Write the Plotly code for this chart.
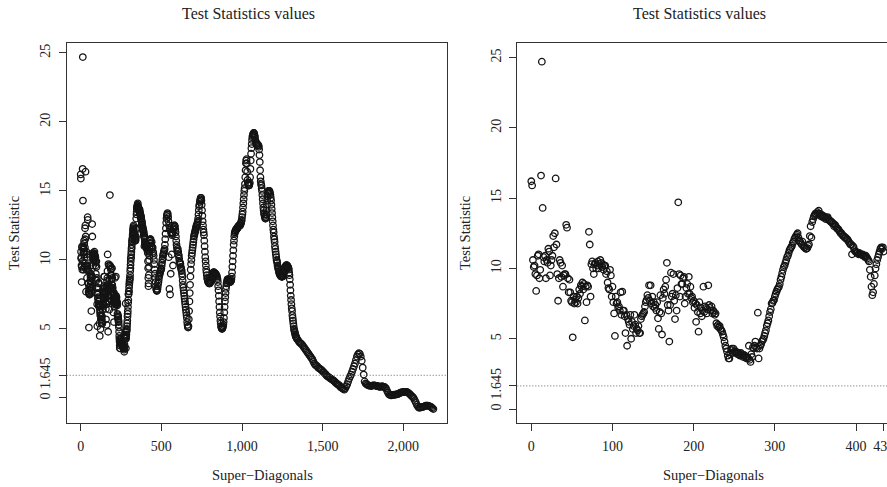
import plotly.graph_objects as go

# ---------------- data ----------------
# Test statistic for super-diagonals 0..434 (individually readable in the right panel)
Y_HEAD = [
    16.2, 15.9, 10.6, 10.1, 10.2, 9.6, 8.4, 9.5, 10.9, 11.0,
    9.3, 9.9, 16.6, 24.7, 14.3, 10.8, 10.5, 10.9, 9.3, 10.6,
    10.4, 11.4, 11.2, 9.5, 10.2, 10.6, 10.9, 12.3, 11.5, 12.5,
    16.4, 11.7, 9.6, 7.7, 9.3, 10.6, 10.4, 9.4, 10.2, 8.7,
    9.5, 9.6, 9.6, 13.1, 12.9, 9.3, 8.3, 9.2, 8.3, 7.7,
    7.6, 5.1, 8.0, 7.5, 7.8, 7.6, 8.0, 7.5, 7.9, 8.5,
    8.2, 8.8, 8.7, 9.0, 8.5, 8.9, 6.3, 8.7, 7.6, 8.8,
    8.7, 12.6, 11.7, 8.0, 10.3, 10.5, 10.0, 9.6, 10.3, 10.4,
    10.0, 10.2, 10.5, 10.0, 10.3, 10.6, 10.4, 10.1, 10.3, 9.9,
    10.2, 10.2, 9.6, 9.8, 9.0, 8.6, 8.5, 9.9, 9.5, 8.0,
    8.7, 7.6, 6.8, 5.2, 8.0, 7.5, 7.6, 7.2, 7.3, 7.0,
    8.3, 6.7, 8.35, 7.0, 7.0, 6.6, 5.4, 6.7, 4.5, 6.4,
    6.2, 6.0, 6.7, 5.0, 6.2, 5.7, 5.9, 6.7, 6.0, 5.4,
    5.7, 5.6, 5.9, 5.4, 5.4, 6.4, 6.6, 6.7, 6.8, 6.9,
    7.3, 7.6, 7.75, 8.1, 7.9, 8.8, 7.7, 8.8, 7.5, 8.0,
    7.3, 7.6, 7.2, 7.4, 7.0, 7.6, 6.45, 5.7, 6.9, 8.1,
    6.8, 5.3, 7.9, 8.5, 8.2, 8.7, 9.2, 10.4, 7.4, 7.0,
    4.8, 7.4, 9.7, 8.0, 8.2, 9.6, 7.7, 6.4, 8.1, 7.0,
    8.6, 14.7, 9.6, 8.0, 9.5, 8.9, 8.9, 9.3, 9.4, 7.5,
    8.0, 8.6, 8.9, 8.2, 9.4, 8.2, 8.7, 7.9, 8.0, 7.6,
    7.7, 7.2, 7.5, 6.2, 7.4, 6.9, 5.5, 7.6, 6.8, 7.2,
    6.6, 7.0, 8.7, 6.9, 7.3, 7.2, 6.8, 7.1, 8.8, 7.4,
    7.2, 7.0, 7.3, 6.8, 7.0, 6.9, 6.7, 6.8, 6.1, 5.9,
    6.0, 5.8, 5.9, 5.7, 5.6, 5.5, 5.3, 5.1, 4.8, 4.5,
    4.3, 4.1, 3.8, 3.6, 3.6, 3.9, 4.2, 4.3, 4.0, 4.3,
    4.1, 4.0, 4.1, 4.0, 3.9, 4.0, 3.9, 3.8, 4.0, 3.9,
    3.8, 3.7, 3.85, 3.8, 3.7, 3.6, 3.7, 3.6, 4.5, 3.5,
    3.35, 3.9, 3.7, 4.4, 4.3, 4.5, 4.8, 4.4, 4.3, 6.85,
    3.6, 4.3, 4.5, 4.6, 4.8, 4.9, 5.0, 5.2, 5.4, 5.6,
    5.9, 6.1, 6.3, 6.6, 6.9, 7.1, 7.5, 7.55, 7.7, 7.75,
    8.0, 8.2, 8.35, 8.5, 8.6, 8.7, 8.9, 9.2, 9.4, 9.65,
    9.9, 10.1, 10.2, 10.4, 10.6, 10.8, 10.9, 11.1, 11.3, 11.4,
    11.5, 11.6, 11.8, 11.9, 12.1, 12.2, 12.3, 12.4, 12.5, 12.2,
    12.0, 11.9, 11.8, 11.7, 11.9, 11.6, 11.5, 11.5, 11.4, 11.4,
    11.45, 11.6, 11.7, 12.3, 13.0, 12.2, 13.3, 13.5, 13.7, 13.8,
    13.9, 13.8, 14.0, 13.9, 14.1, 13.9, 13.8, 13.7, 13.8, 13.7,
    13.6, 13.7, 13.6, 13.5, 13.6, 13.65, 13.5, 13.4, 13.4, 13.3,
    13.3, 13.2, 13.2, 13.0, 13.1, 13.0, 12.9, 12.8, 12.8, 12.7,
    12.6, 12.5, 12.5, 12.4, 12.3, 12.3, 12.2, 12.2, 12.1, 12.1,
    12.0, 11.9, 11.8, 11.7, 11.7, 11.0, 11.6, 11.5, 11.3, 11.2,
    11.2, 11.1, 11.1, 11.0, 11.1, 11.0, 11.0, 10.95, 11.0, 10.9,
    10.9, 10.8, 10.9, 10.8, 10.7, 10.6, 10.5, 9.9, 9.4, 8.7,
    8.1, 8.3, 8.9, 9.5, 10.0, 10.3, 10.6, 10.8, 11.0, 11.2,
    11.4, 11.5, 11.4, 11.5, 11.2,
]
HEAD_START = 0

# super-diagonals 436..1340, every second one
Y_MID = [
    11.2, 11.0, 11.3, 10.9, 10.8, 10.9, 10.6, 10.5, 10.3, 10.0,
    9.7, 9.3, 9.0, 8.7, 8.4, 8.1, 7.9, 7.8, 7.75, 7.8,
    7.9, 8.1, 8.3, 8.4, 8.6, 8.8, 8.9, 9.0, 9.1, 9.2,
    9.3, 9.3, 9.4, 9.6, 9.8, 10.0, 10.1, 10.3, 10.4, 10.5,
    10.6, 10.7, 10.8, 11.1, 11.5, 11.9, 12.3, 12.7, 13.0, 13.2,
    13.3, 13.4, 13.3, 13.1, 12.8, 10.2, 12.5, 7.9, 12.3, 7.5,
    12.2, 9.0, 12.0, 11.9, 10.4, 11.8, 11.9, 12.0, 9.6, 12.2,
    12.3, 12.4, 12.5, 12.5, 12.4, 12.2, 12.0, 11.7, 11.4, 11.1,
    10.9, 10.7, 10.6, 10.8, 10.6, 10.4, 10.3, 10.1, 9.9, 9.8,
    9.8, 9.7, 9.5, 9.4, 9.3, 9.2, 9.0, 8.8, 8.5, 8.2,
    8.0, 7.8, 7.6, 7.4, 7.2, 7.0, 6.8, 6.6, 6.4, 6.2,
    6.0, 5.8, 5.5, 5.3, 5.15, 5.1, 5.2, 5.7, 6.3, 7.0,
    7.6, 8.2, 8.8, 9.3, 9.7, 10.0, 10.3, 10.5, 10.7, 10.9,
    11.1, 11.3, 11.5, 11.7, 11.8, 11.9, 12.0, 12.1, 12.2, 12.3,
    12.4, 12.5, 12.5, 12.6, 12.7, 12.8, 13.0, 13.3, 13.6, 13.9,
    14.0, 14.2, 14.3, 14.4, 14.5, 14.5, 14.3, 14.0, 13.6, 13.2,
    12.8, 12.5, 12.2, 12.0, 11.8, 11.4, 11.0, 10.6, 10.2, 9.9,
    9.6, 9.3, 9.1, 8.9, 8.7, 8.6, 8.5, 8.4, 8.4, 8.35,
    8.3, 8.3, 8.3, 8.35, 8.4, 8.5, 8.6, 8.7, 8.8, 8.9,
    8.95, 9.0, 9.05, 9.1, 9.1, 9.1, 9.1, 9.05, 9.0, 9.0,
    9.0, 8.95, 8.9, 8.9, 8.8, 8.7, 8.6, 8.4, 8.1, 7.8,
    7.4, 7.0, 6.6, 6.2, 5.9, 5.6, 5.4, 5.2, 5.1, 5.05,
    5.0, 5.05, 5.1, 5.2, 5.3, 5.5, 5.8, 6.2, 6.6, 7.0,
    7.3, 7.6, 7.9, 8.1, 8.3, 8.4, 8.5, 8.6, 8.6, 8.6,
    8.6, 8.55, 8.5, 8.45, 8.4, 8.4, 8.4, 8.45, 8.5, 8.6,
    8.8, 9.1, 9.5, 9.9, 10.3, 10.7, 11.1, 11.4, 11.7, 11.9,
    12.0, 12.1, 12.1, 12.2, 12.2, 12.2, 12.3, 12.3, 12.3, 12.4,
    12.4, 12.4, 12.5, 12.5, 12.5, 12.5, 12.5, 12.6, 12.6, 12.7,
    12.8, 12.9, 13.1, 13.3, 13.5, 13.8, 14.1, 14.4, 14.7, 15.0,
    15.2, 15.5, 16.0, 16.5, 17.0, 17.2, 17.3, 17.0, 16.4, 15.8,
    15.6, 15.5, 15.4, 15.4, 15.4, 15.5, 15.6, 16.0, 16.6, 17.2,
    17.7, 18.1, 18.4, 18.7, 18.9, 19.0, 19.1, 19.1, 19.2, 19.2,
    19.1, 19.0, 18.9, 18.7, 18.6, 18.5, 18.5, 18.4, 18.4, 18.3,
    18.4, 18.3, 18.3, 18.3, 18.2, 18.0, 17.6, 17.1, 16.5, 16.0,
    15.7, 15.5, 15.4, 15.2, 15.0, 14.7, 14.4, 14.1, 13.8, 13.6,
    13.4, 13.3, 13.2, 13.1, 13.0, 13.0, 13.1, 13.3, 13.6, 14.0,
    14.3, 14.6, 14.8, 14.9, 15.0, 15.0, 15.0, 15.0, 14.9, 14.8,
    14.7, 14.5, 14.3, 14.0, 13.7, 13.4, 13.1, 12.8, 12.5, 12.2,
    12.0, 11.7, 11.5, 11.3, 11.0, 10.8, 10.6, 10.4, 10.2, 10.0,
    9.9, 9.8, 9.6, 9.5, 9.4, 9.3, 9.2, 9.1, 9.0, 9.0,
    8.9, 8.9, 8.85, 8.8, 8.8, 8.8, 8.8, 8.8, 8.8, 8.85,
    8.9, 9.0, 9.1, 9.2, 9.3, 9.4, 9.5, 9.5, 9.6, 9.6,
    9.6, 9.6, 9.6, 9.55, 9.5, 9.45, 9.4, 9.3, 9.1, 8.9,
    8.6, 8.2, 7.8, 7.4, 7.1, 6.8, 6.5, 6.3, 6.0, 5.8,
    5.6, 5.4, 5.2, 5.0, 4.9, 4.8, 4.7, 4.6, 4.5, 4.45,
    4.4, 4.35, 4.3,
]
MID_START, MID_STEP = 436, 2

# super-diagonals 1346..2186, every sixth one
Y_TAIL = [
    4.2, 4.1, 4.0, 3.95, 3.9, 3.8, 3.7, 3.6, 3.5, 3.4,
    3.3, 3.2, 3.1, 3.0, 2.9, 2.8, 2.65, 2.5, 2.4, 2.35,
    2.3, 2.2, 2.15, 2.1, 2.05, 2.0, 1.9, 1.85, 1.75, 1.7,
    1.6, 1.55, 1.5, 1.45, 1.4, 1.35, 1.3, 1.25, 1.2, 1.1,
    1.05, 1.0, 0.95, 0.9, 0.8, 0.75, 0.7, 0.65, 0.6, 0.7,
    0.85, 1.0, 1.2, 1.4, 1.55, 1.7, 1.9, 2.1, 2.3, 2.5,
    2.75, 3.0, 3.15, 3.25, 3.2, 3.0, 2.7, 2.2, 1.7, 1.2,
    1.05, 1.0, 0.95, 0.9, 0.9, 0.88, 0.87, 0.9, 0.92, 0.92,
    0.9, 0.88, 0.86, 0.85, 0.82, 0.8, 0.82, 0.85, 0.83, 0.8,
    0.78, 0.7, 0.55, 0.4, 0.28, 0.22, 0.2, 0.2, 0.22, 0.22,
    0.24, 0.25, 0.26, 0.28, 0.3, 0.35, 0.38, 0.4, 0.42, 0.43,
    0.44, 0.45, 0.45, 0.42, 0.38, 0.32, 0.25, 0.18, 0.1, 0.05,
    -0.05, -0.2, -0.35, -0.5, -0.62, -0.7, -0.7, -0.68, -0.66, -0.65,
    -0.62, -0.6, -0.56, -0.55, -0.55, -0.57, -0.6, -0.62, -0.68, -0.74,
    -0.8,
]
TAIL_START, TAIL_STEP = 1346, 6

X_TICKS_LEFT = [0, 500, 1000, 1500, 2000]
X_LABELS_LEFT = ["0", "500", "1,000", "1,500", "2,000"]
X_TICKS_RIGHT = [0, 100, 200, 300, 400, 434]
X_LABELS_RIGHT = ["0", "100", "200", "300", "400", "434"]
Y_TICKS = [0, 1.645, 5, 10, 15, 20, 25]
Y_LABELS = ["0", "1.645", "5", "10", "15", "20", "25"]
THRESHOLD = 1.645

TITLE = "Test Statistics values"
X_TITLE = "Super\u2212Diagonals"
Y_TITLE = "Test Statistic"

# ---------------- assemble series ----------------
x_head = [HEAD_START + i for i in range(len(Y_HEAD))]
x_mid = [MID_START + MID_STEP * i for i in range(len(Y_MID))]
x_tail = [TAIL_START + TAIL_STEP * i for i in range(len(Y_TAIL))]
x_all = x_head + x_mid + x_tail
y_all = Y_HEAD + Y_MID + Y_TAIL

W, H = 887, 487
FONT = "Liberation Serif, Times New Roman, serif"
INK = "#141414"

marker = dict(symbol="circle-open", size=6.5, color=INK, line=dict(width=1.3, color=INK))

fig = go.Figure()
fig.add_trace(go.Scatter(x=x_all, y=y_all, mode="markers", marker=marker,
                         xaxis="x", yaxis="y", hoverinfo="skip"))
fig.add_trace(go.Scatter(x=x_head, y=Y_HEAD, mode="markers", marker=marker,
                         xaxis="x2", yaxis="y2", hoverinfo="skip"))

def px_x(p):
    return p / W

def px_y(p):
    return 1 - p / H

tickfont = dict(family=FONT, size=14, color="#222")
common = dict(showgrid=False, zeroline=False, showline=True, linecolor="#333",
              linewidth=1, ticks="outside", ticklen=7, tickcolor="#333",
              tickwidth=1, tickfont=tickfont, automargin=False,
              ticklabeloverflow="allow")

XL = [-86.8, 2268.6]
XR = [-17.24, 438.1]
YL = [-1.79, 25.72]
YR = [-0.97, 26.05]

fig.update_layout(
    width=W, height=H, margin=dict(l=0, r=0, t=0, b=0),
    paper_bgcolor="white", plot_bgcolor="white", showlegend=False,
    template="none",
    xaxis=dict(domain=[px_x(66.7), px_x(446.7)], range=XL, anchor="y", mirror=True,
               tickvals=X_TICKS_LEFT, ticktext=X_LABELS_LEFT, ticklabelstandoff=3, **common),
    yaxis=dict(domain=[px_y(422.7), px_y(43)], range=YL, anchor="x", mirror=True,
               tickvals=Y_TICKS, ticktext=Y_LABELS, tickangle=-90, ticklabelstandoff=3, **common),
    xaxis2=dict(domain=[px_x(517.3), 1.0], range=XR, anchor="y2", mirror=True,
                tickvals=X_TICKS_RIGHT, ticktext=X_LABELS_RIGHT, ticklabelstandoff=3, **common),
    yaxis2=dict(domain=[px_y(422.7), px_y(42.7)], range=YR, anchor="x2", mirror=False,
                tickvals=Y_TICKS, ticktext=Y_LABELS, tickangle=-90, ticklabelstandoff=3, **common),
)

fig.add_shape(type="line", xref="x", yref="y", x0=XL[0], x1=XL[1], y0=THRESHOLD, y1=THRESHOLD,
              line=dict(color="#666", width=1, dash="1px,2px"))
fig.add_shape(type="line", xref="x2", yref="y2", x0=XR[0], x1=XR[1], y0=THRESHOLD, y1=THRESHOLD,
              line=dict(color="#666", width=1, dash="1px,2px"))

def label(text, x, y, size, angle=0):
    fig.add_annotation(text=text, x=px_x(x), y=px_y(y), xref="paper", yref="paper",
                       showarrow=False, xanchor="center", yanchor="middle", textangle=angle,
                       font=dict(family=FONT, size=size, color="#222"))

label(TITLE, 248, 13.5, 16)
label(TITLE, 699.5, 13.5, 16)
label(X_TITLE, 262.5, 475, 14.5)
label(X_TITLE, 713.3, 475, 14.5)
label(Y_TITLE, 14, 233, 14.5, -90)
label(Y_TITLE, 465, 233, 14.5, -90)

fig.write_html("out.html")
